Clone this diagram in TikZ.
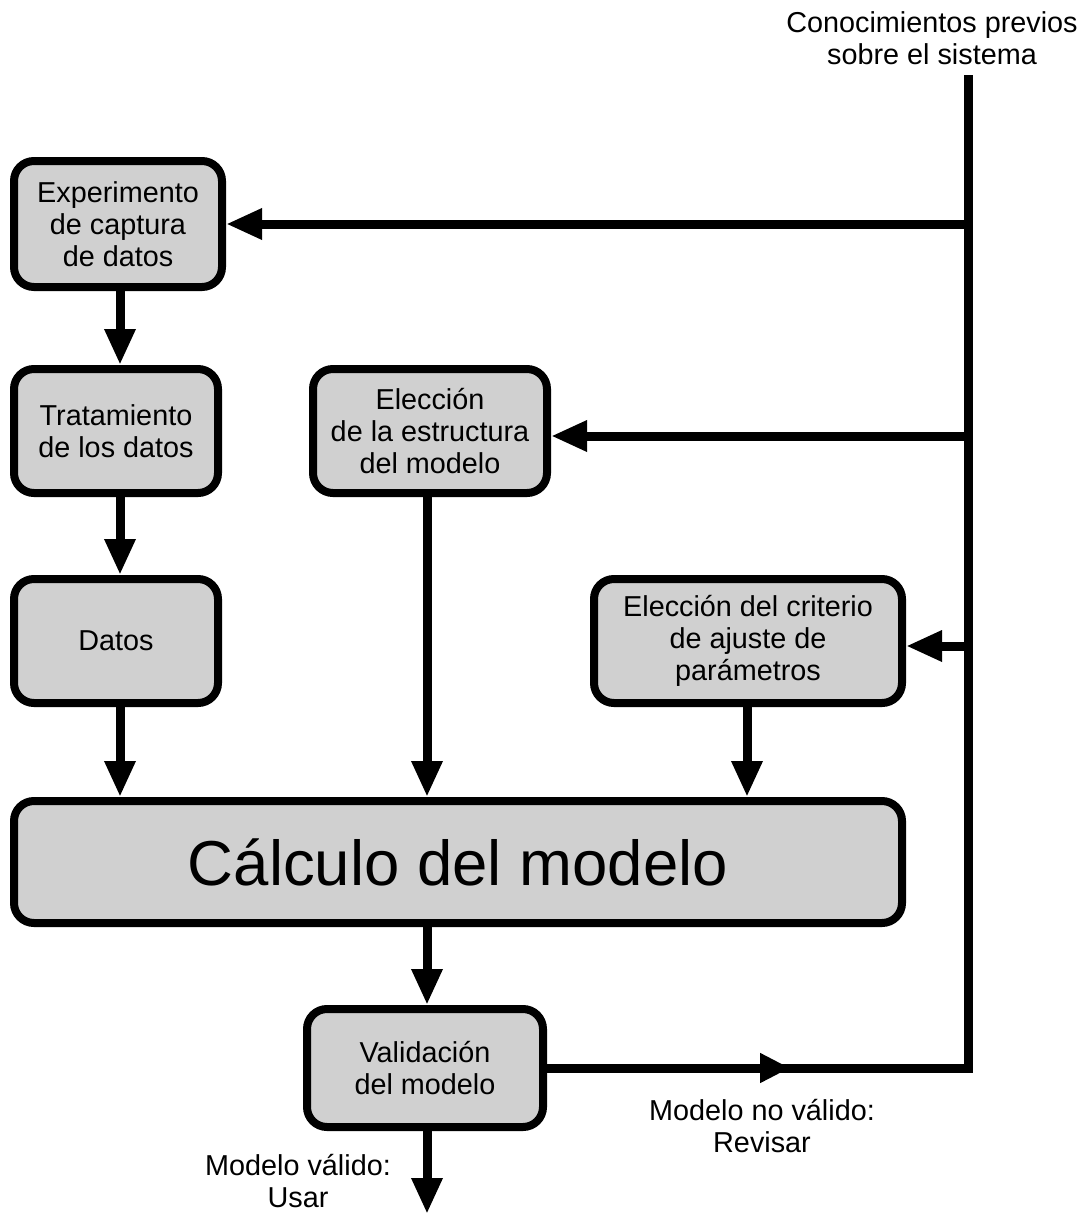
\documentclass[tikz,border=0pt]{standalone}
\usepackage{fontspec}
\setmainfont{Liberation Sans}
\usetikzlibrary{arrows.meta}
\definecolor{boxfill}{RGB}{208,208,208}
\begin{document}
\begin{tikzpicture}[x=1pt,y=-1pt,
  box/.style={draw=black, line width=8pt, fill=boxfill, rounded corners=20pt,
    align=center, inner sep=0pt, font=\fontsize{28.8}{32}\selectfont},
  lbl/.style={align=center, inner sep=0pt, font=\fontsize{28.8}{32}\selectfont},
  arr/.style={line width=9pt, -{Triangle[length=36pt,width=29pt]}},
  midarr/.style={line width=9pt, -{Triangle[length=30pt,width=28pt]}},
  wire/.style={line width=9pt, line join=miter}]
\useasboundingbox (0,0) rectangle (1084,1216);

% process boxes
\node[box, minimum width=208pt, minimum height=126pt] (exp) at (118,224)
  {Experimento\\de captura\\de datos};
\node[box, minimum width=204pt, minimum height=124pt] (trat) at (116,431)
  {Tratamiento\\de los datos};
\node[box, minimum width=204pt, minimum height=124pt] (datos) at (116,641)
  {Datos};
\node[box, minimum width=234pt, minimum height=124pt] (est) at (430,431)
  {Elección\\de la estructura\\del modelo};
\node[box, minimum width=308pt, minimum height=124pt] (crit) at (748,641)
  {Elección del criterio\\de ajuste de\\parámetros};
\node[box, minimum width=888pt, minimum height=122pt,
  font=\fontsize{63.5}{70}\selectfont] (calc) at (458,862) {Cálculo del modelo};
\node[box, minimum width=236pt, minimum height=118pt] (val) at (425,1068)
  {Validación\\del modelo};

% free texts
\node[lbl] (prev) at (932,38) {Conocimientos previos\\sobre el sistema};
\node[lbl] (noval) at (762,1126) {Modelo no válido:\\Revisar};
\node[lbl] (valid) at (298,1181) {Modelo válido:\\Usar};

% helper points of the feedback line
\coordinate (top) at (968,75);
\coordinate (corner) at (968,1068);
\coordinate (b1) at (968,224);
\coordinate (b2) at (968,436);
\coordinate (b3) at (968,646);
\coordinate (mid) at (790,1068);
\coordinate (out) at (427,1214);
\coordinate (xa) at (120,0);
\coordinate (xb) at (427,0);
\coordinate (xc) at (747,0);

% main flow
\draw[arr] (exp.south -| xa) -- (trat.north -| xa);
\draw[arr] (trat.south -| xa) -- (datos.north -| xa);
\draw[arr] (datos.south -| xa) -- (calc.north -| xa);
\draw[arr] (est.south -| xb) -- (calc.north -| xb);
\draw[arr] (crit.south -| xc) -- (calc.north -| xc);
\draw[arr] (calc.south -| xb) -- (val.north -| xb);
\draw[arr] (val.south -| out) -- (out);

% feedback from validation and prior knowledge
\draw[wire] (val.east) -- (corner) -- (top);
\draw[midarr] (val.east) -- (mid);
\draw[arr] (b1) -- (exp.east |- b1);
\draw[arr] (b2) -- (est.east |- b2);
\draw[arr] (b3) -- (crit.east |- b3);
\end{tikzpicture}
\end{document}
